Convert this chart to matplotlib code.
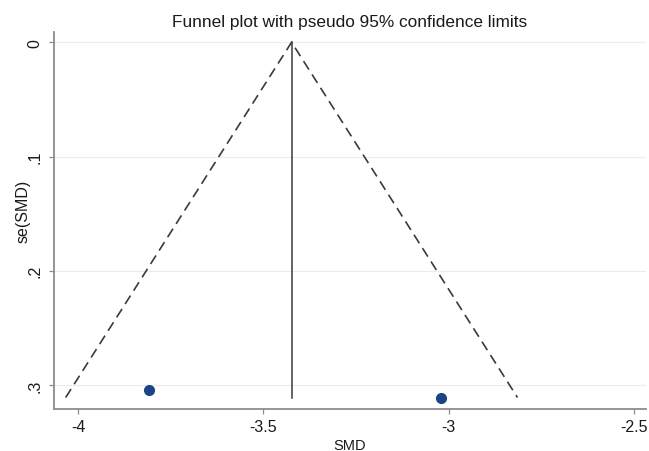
"""Funnel plot with pseudo 95% confidence limits (Stata-style), two studies."""
import numpy as np
import matplotlib
matplotlib.use("Agg")
import matplotlib.pyplot as plt

plt.rcParams["font.family"] = ["Liberation Sans", "DejaVu Sans"]

# study effect sizes and their standard errors
SMD = [-3.81, -3.02]
SE_SMD = [0.304, 0.311]

X_TICKS = [-4, -3.5, -3, -2.5]
X_TICK_LABELS = ["-4", "-3.5", "-3", "-2.5"]
Y_TICKS = [0, 0.1, 0.2, 0.3]
Y_TICK_LABELS = ["0", ".1", ".2", ".3"]

GRAY = "#8c8c8c"
GRID = "#ececec"
DOT = "#1c4383"
TXT = "#1a1a1a"


def main():
    smd = np.array(SMD)
    se = np.array(SE_SMD)
    # fixed-effect (inverse variance) pooled estimate -> funnel centre
    w = 1.0 / se ** 2
    pooled = np.sum(w * smd) / np.sum(w)
    se_max = se.max()

    fig = plt.figure(figsize=(6.49, 4.52), dpi=100)
    ax = fig.add_axes([0.0832, 0.093, 0.912, 0.834])

    for y in Y_TICKS:
        ax.axhline(y, color=GRID, lw=0.8, zorder=0)

    # pseudo 95% limits
    ax.plot([pooled - 1.96 * se_max, pooled, pooled + 1.96 * se_max],
            [se_max, 0, se_max], ls=(0, (6, 3.5)), color="#3a3a3a", lw=1.2, zorder=2)
    ax.plot([pooled, pooled], [0, se_max], color="#3a3a3a", lw=1.1, zorder=2)
    ax.plot(smd, se, "o", color=DOT, markersize=7, zorder=3)

    ax.set_xlim(-4.065, -2.468)
    ax.set_ylim(0.321, -0.009)
    ax.set_xticks(X_TICKS)
    ax.set_xticklabels(X_TICK_LABELS)
    ax.set_yticks(Y_TICKS)
    ax.set_yticklabels(Y_TICK_LABELS, rotation=90, va="center")

    for side in ("top", "right"):
        ax.spines[side].set_visible(False)
    for side in ("left", "bottom"):
        ax.spines[side].set_color(GRAY)
        ax.spines[side].set_linewidth(1.3)
    ax.tick_params(colors=TXT, labelsize=11.5, length=3.5, width=0.9)
    ax.tick_params(axis="both", color=GRAY)
    ax.tick_params(axis="y", pad=5)
    ax.tick_params(axis="x", pad=4)

    ax.set_xlabel("SMD", fontsize=10.5, color=TXT)
    ax.xaxis.set_label_coords(0.5, -0.076)
    ax.set_ylabel("se(SMD)", fontsize=11.5, color=TXT)
    ax.yaxis.set_label_coords(-0.039, 0.528)
    ax.set_title("Funnel plot with pseudo 95% confidence limits",
                 fontsize=12.4, color=TXT, pad=4)

    fig.savefig("out.png", dpi=100, facecolor="white")


if __name__ == "__main__":
    main()
